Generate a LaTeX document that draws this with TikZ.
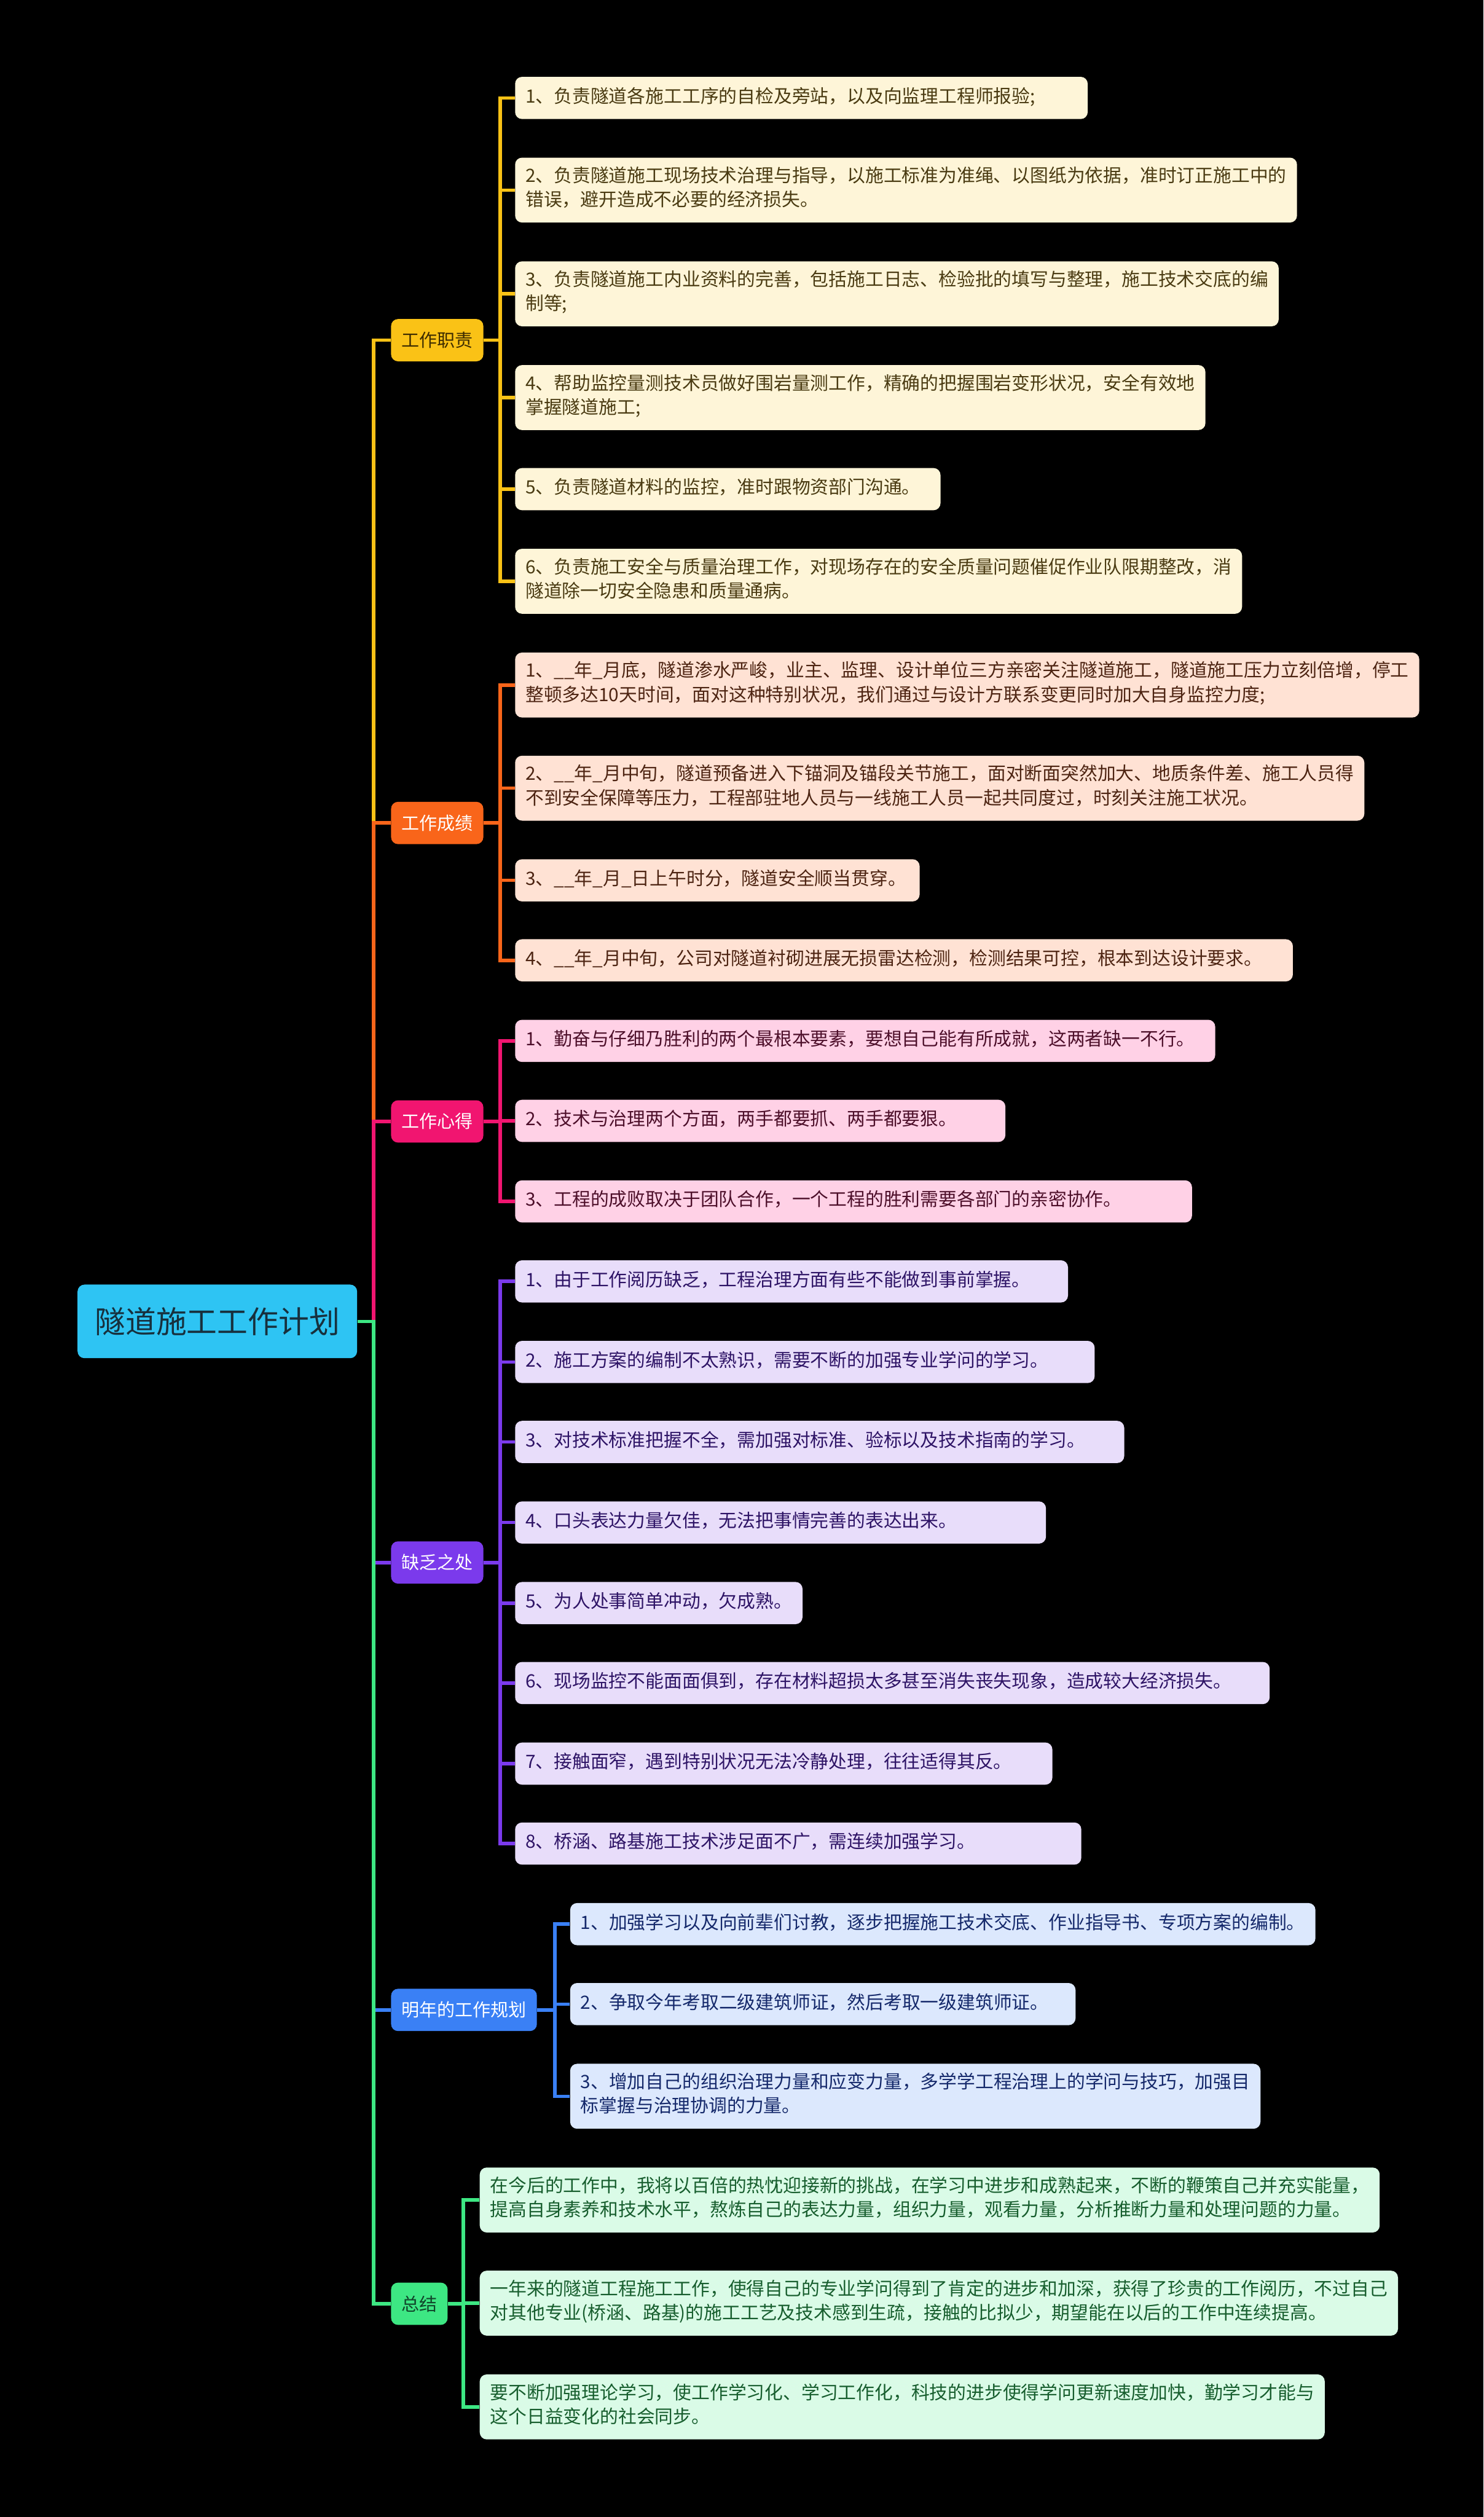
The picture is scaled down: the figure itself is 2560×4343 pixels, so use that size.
\documentclass[tikz,border=0pt]{standalone}
\usepackage{fontspec}
\setmainfont{Noto Sans CJK SC}
\usepackage{xcolor}
\usepackage{tikz}

\definecolor{rootfill}{HTML}{2EC4F3}
\definecolor{roottext}{HTML}{17303D}
\definecolor{yel}{HTML}{FAC216}
\definecolor{yeltext}{HTML}{3D2C00}
\definecolor{yelleaf}{HTML}{FEF5D8}
\definecolor{yelleaftext}{HTML}{4A3B12}
\definecolor{ora}{HTML}{F9651A}
\definecolor{oraleaf}{HTML}{FFE2D4}
\definecolor{oraleaftext}{HTML}{4D2412}
\definecolor{pnk}{HTML}{F11570}
\definecolor{pnkleaf}{HTML}{FFD1E6}
\definecolor{pnkleaftext}{HTML}{4D0F2A}
\definecolor{pur}{HTML}{7B3AEC}
\definecolor{purleaf}{HTML}{E8DDFA}
\definecolor{purleaftext}{HTML}{2E1466}
\definecolor{blu}{HTML}{3A80F5}
\definecolor{bluleaf}{HTML}{DCE8FD}
\definecolor{bluleaftext}{HTML}{15296B}
\definecolor{grn}{HTML}{3DE783}
\definecolor{grntext}{HTML}{10452A}
\definecolor{grnleaf}{HTML}{DAFBE7}
\definecolor{grnleaftext}{HTML}{175E2E}

\tikzset{
  box/.style={rectangle, rounded corners=3pt, inner xsep=4.5pt},
  rootbox/.style={box, fill=rootfill, text=roottext, inner xsep=7.5pt, minimum height=31.75pt,
    font=\fontsize{13.2pt}{16pt}\selectfont},
  catbox/.style={box, anchor=west, minimum height=18.25pt, font=\fontsize{7.7pt}{9pt}\selectfont},
  leafbox/.style={box, anchor=west, align=left, inner ysep=3.9pt,
    font=\fontsize{7.9pt}{10.4pt}\selectfont,
    execute at begin node=\strut, execute at end node=\strut},
  link/.style={line width=1.5pt},
}

\begin{document}
\begin{tikzpicture}[x=0.25pt, y=-0.25pt]
  \fill[black] (0,0) rectangle (2560,4343);

  \node[rootbox] (root) at (375,2280) {隧道施工工作计划};

  \node[catbox, fill=yel, text=yeltext] (duty) at (674,587) {工作职责};
  \node[catbox, fill=ora, text=white] (result) at (674,1420) {工作成绩};
  \node[catbox, fill=pnk, text=white] (gain) at (674,1935) {工作心得};
  \node[catbox, fill=pur, text=white] (lack) at (674,2696) {缺乏之处};
  \node[catbox, fill=blu, text=white] (plan) at (674,3468) {明年的工作规划};
  \node[catbox, fill=grn, text=grntext] (sum) at (674,3975) {总结};

  \node[leafbox, fill=yelleaf, text=yelleaftext, text width=238pt] (duty1) at (888,169) {1、负责隧道各施工工序的自检及旁站，以及向监理工程师报验;};
  \node[leafbox, fill=yelleaf, text=yelleaftext] (duty2) at (888,328) {2、负责隧道施工现场技术治理与指导，以施工标准为准绳、以图纸为依据，准时订正施工中的\\错误，避开造成不必要的经济损失。};
  \node[leafbox, fill=yelleaf, text=yelleaftext] (duty3) at (888,507) {3、负责隧道施工内业资料的完善，包括施工日志、检验批的填写与整理，施工技术交底的编\\制等;};
  \node[leafbox, fill=yelleaf, text=yelleaftext] (duty4) at (888,686) {4、帮助监控量测技术员做好围岩量测工作，精确的把握围岩变形状况，安全有效地\\掌握隧道施工;};
  \node[leafbox, fill=yelleaf, text=yelleaftext, text width=174.5pt] (duty5) at (888,844) {5、负责隧道材料的监控，准时跟物资部门沟通。};
  \node[leafbox, fill=yelleaf, text=yelleaftext] (duty6) at (888,1003) {6、负责施工安全与质量治理工作，对现场存在的安全质量问题催促作业队限期整改，消\\隧道除一切安全隐患和质量通病。};

  \node[leafbox, fill=oraleaf, text=oraleaftext] (res1) at (888,1182) {1、\_\_年\_月底，隧道渗水严峻，业主、监理、设计单位三方亲密关注隧道施工，隧道施工压力立刻倍增，停工\\整顿多达10天时间，面对这种特别状况，我们通过与设计方联系变更同时加大自身监控力度;};
  \node[leafbox, fill=oraleaf, text=oraleaftext] (res2) at (888,1360) {2、\_\_年\_月中旬，隧道预备进入下锚洞及锚段关节施工，面对断面突然加大、地质条件差、施工人员得\\不到安全保障等压力，工程部驻地人员与一线施工人员一起共同度过，时刻关注施工状况。};
  \node[leafbox, fill=oraleaf, text=oraleaftext, text width=165.5pt] (res3) at (888,1519) {3、\_\_年\_月\_日上午时分，隧道安全顺当贯穿。};
  \node[leafbox, fill=oraleaf, text=oraleaftext, text width=326.5pt] (res4) at (888,1657) {4、\_\_年\_月中旬，公司对隧道衬砌进展无损雷达检测，检测结果可控，根本到达设计要求。};

  \node[leafbox, fill=pnkleaf, text=pnkleaftext, text width=293pt] (gain1) at (888,1796) {1、勤奋与仔细乃胜利的两个最根本要素，要想自己能有所成就，这两者缺一不行。};
  \node[leafbox, fill=pnkleaf, text=pnkleaftext, text width=202.5pt] (gain2) at (888,1934) {2、技术与治理两个方面，两手都要抓、两手都要狠。};
  \node[leafbox, fill=pnkleaf, text=pnkleaftext, text width=283pt] (gain3) at (888,2073) {3、工程的成败取决于团队合作，一个工程的胜利需要各部门的亲密协作。};

  \node[leafbox, fill=purleaf, text=purleaftext, text width=229.5pt] (lack1) at (888,2211) {1、由于工作阅历缺乏，工程治理方面有些不能做到事前掌握。};
  \node[leafbox, fill=purleaf, text=purleaftext, text width=241pt] (lack2) at (888,2350) {2、施工方案的编制不太熟识，需要不断的加强专业学问的学习。};
  \node[leafbox, fill=purleaf, text=purleaftext, text width=253.75pt] (lack3) at (888,2488) {3、对技术标准把握不全，需加强对标准、验标以及技术指南的学习。};
  \node[leafbox, fill=purleaf, text=purleaftext, text width=220pt] (lack4) at (888,2627) {4、口头表达力量欠佳，无法把事情完善的表达出来。};
  \node[leafbox, fill=purleaf, text=purleaftext] (lack5) at (888,2766) {5、为人处事简单冲动，欠成熟。};
  \node[leafbox, fill=purleaf, text=purleaftext, text width=316.5pt] (lack6) at (888,2904) {6、现场监控不能面面俱到，存在材料超损太多甚至消失丧失现象，造成较大经济损失。};
  \node[leafbox, fill=purleaf, text=purleaftext, text width=222.75pt] (lack7) at (888,3043) {7、接触面窄，遇到特别状况无法冷静处理，往往适得其反。};
  \node[leafbox, fill=purleaf, text=purleaftext, text width=235.25pt] (lack8) at (888,3181) {8、桥涵、路基施工技术涉足面不广，需连续加强学习。};

  \node[leafbox, fill=bluleaf, text=bluleaftext] (plan1) at (983,3320) {1、加强学习以及向前辈们讨教，逐步把握施工技术交底、作业指导书、专项方案的编制。};
  \node[leafbox, fill=bluleaf, text=bluleaftext, text width=209pt] (plan2) at (983,3458) {2、争取今年考取二级建筑师证，然后考取一级建筑师证。};
  \node[leafbox, fill=bluleaf, text=bluleaftext] (plan3) at (983,3617) {3、增加自己的组织治理力量和应变力量，多学学工程治理上的学问与技巧，加强目\\标掌握与治理协调的力量。};

  \node[leafbox, fill=grnleaf, text=grnleaftext] (sum1) at (827,3796) {在今后的工作中，我将以百倍的热忱迎接新的挑战，在学习中进步和成熟起来，不断的鞭策自己并充实能量，\\提高自身素养和技术水平，熬炼自己的表达力量，组织力量，观看力量，分析推断力量和处理问题的力量。};
  \node[leafbox, fill=grnleaf, text=grnleaftext] (sum2) at (827,3974) {一年来的隧道工程施工工作，使得自己的专业学问得到了肯定的进步和加深，获得了珍贵的工作阅历，不过自己\\对其他专业(桥涵、路基)的施工工艺及技术感到生疏，接触的比拟少，期望能在以后的工作中连续提高。};
  \node[leafbox, fill=grnleaf, text=grnleaftext] (sum3) at (827,4153) {要不断加强理论学习，使工作学习化、学习工作化，科技的进步使得学问更新速度加快，勤学习才能与\\这个日益变化的社会同步。};

  \coordinate (main) at (645,0);
  \draw[link, yel] (root.east) -- (main |- root.east) -- (main |- duty.west) [rounded corners=5pt] -- (duty.west);
  \draw[link, ora] (root.east) -- (main |- root.east) -- (main |- result.west) [rounded corners=5pt] -- (result.west);
  \draw[link, pnk] (root.east) -- (main |- root.east) -- (main |- gain.west) [rounded corners=5pt] -- (gain.west);
  \draw[link, pur] (root.east) -- (main |- root.east) -- (main |- lack.west) [rounded corners=5pt] -- (lack.west);
  \draw[link, blu] (root.east) -- (main |- root.east) -- (main |- plan.west) [rounded corners=5pt] -- (plan.west);
  \draw[link, grn] (root.east) -- (main |- root.east) -- (main |- sum.west) [rounded corners=5pt] -- (sum.west);

  \coordinate (dutyx) at ([xshift=7pt]duty.east);
  \coordinate (resultx) at ([xshift=7pt]result.east);
  \coordinate (gainx) at ([xshift=7pt]gain.east);
  \coordinate (lackx) at ([xshift=7pt]lack.east);
  \coordinate (planx) at ([xshift=7.5pt]plan.east);
  \coordinate (sumx) at ([xshift=6.5pt]sum.east);

  \foreach \n in {duty1,duty2,duty3,duty4,duty5,duty6}
    \draw[link, yel] (duty.east) -- (dutyx) -- (dutyx |- \n.west) [rounded corners=5pt] -- (\n.west);
  \foreach \n in {res1,res2,res3,res4}
    \draw[link, ora] (result.east) -- (resultx) -- (resultx |- \n.west) [rounded corners=5pt] -- (\n.west);
  \foreach \n in {gain1,gain2,gain3}
    \draw[link, pnk] (gain.east) -- (gainx) -- (gainx |- \n.west) [rounded corners=5pt] -- (\n.west);
  \foreach \n in {lack1,lack2,lack3,lack4,lack5,lack6,lack7,lack8}
    \draw[link, pur] (lack.east) -- (lackx) -- (lackx |- \n.west) [rounded corners=5pt] -- (\n.west);
  \foreach \n in {plan1,plan2,plan3}
    \draw[link, blu] (plan.east) -- (planx) -- (planx |- \n.west) [rounded corners=5pt] -- (\n.west);
  \foreach \n in {sum1,sum2,sum3}
    \draw[link, grn] (sum.east) -- (sumx) -- (sumx |- \n.west) [rounded corners=5pt] -- (\n.west);
\end{tikzpicture}
\end{document}
